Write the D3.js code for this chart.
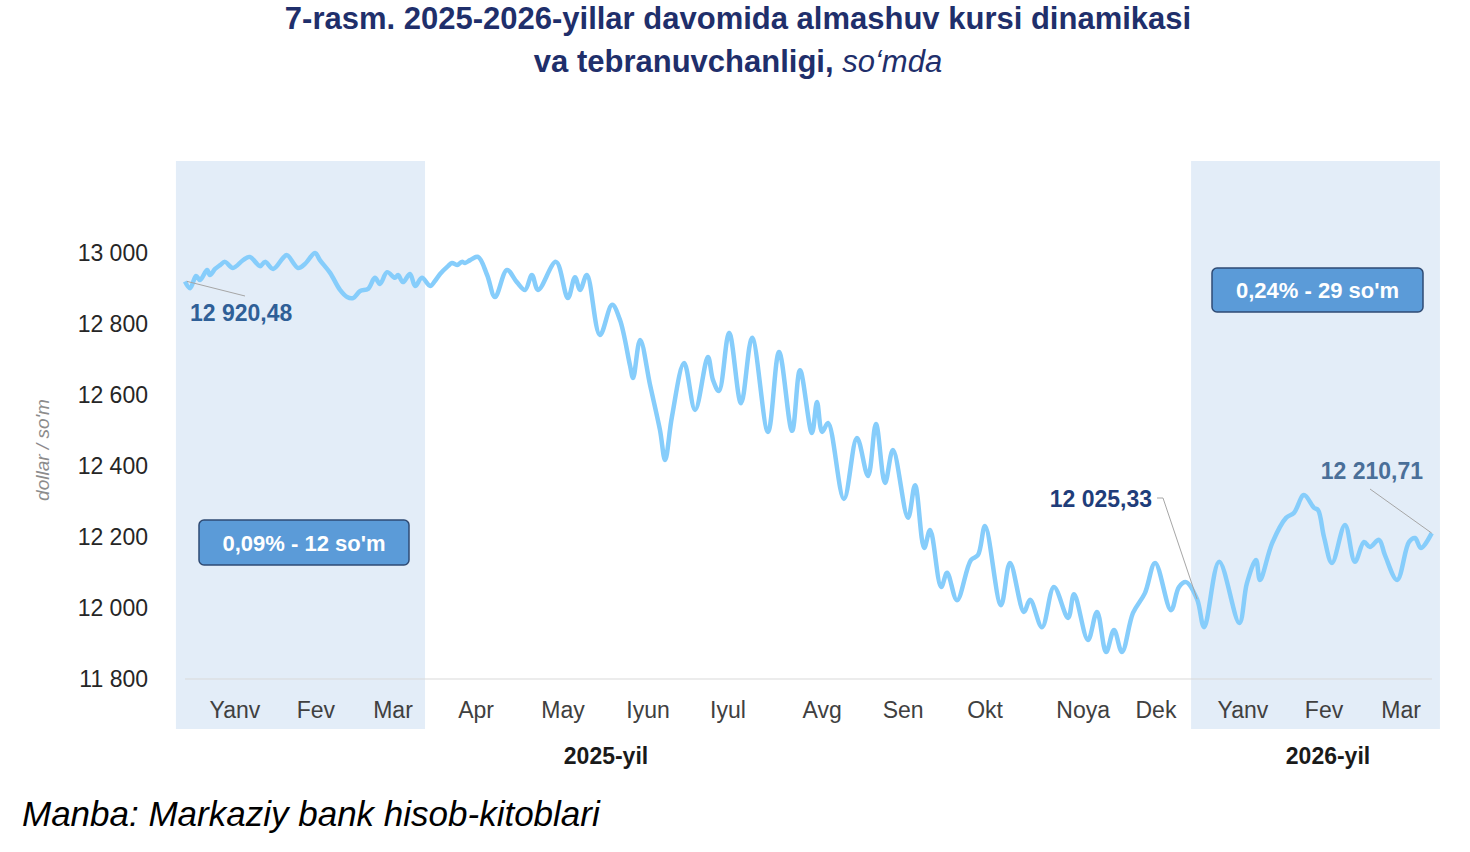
<!DOCTYPE html>
<html><head><meta charset="utf-8">
<script src="https://cdn.jsdelivr.net/npm/d3@7"></script>
<style>body{margin:0;background:#fff}svg{font-family:"Liberation Sans",Arial,sans-serif}</style>
</head><body><svg id="c" width="1470" height="852"></svg>
<script>
const days=[0,1.8,3.9,5.3,7.8,8.8,10.6,12.4,14.1,16.9,20.5,22.9,26.5,28.2,31.1,34.6,36,39.9,42.3,45.9,47.6,51.2,54.7,57.2,59.3,61.8,64.6,67,68.8,71.3,74.1,75.2,76.9,79.4,81.2,83.6,86.5,88.2,90,92.8,94.2,96,97.7,98.8,100.6,103.4,106.6,109.4,113.6,117.1,120,122.4,124.6,130.9,135.1,137.6,139.4,141.8,146.4,150.7,153.5,157,158.1,160.6,164.1,167.6,169.4,171.8,176.1,180,184.5,186.3,188.4,192,196.2,200.1,205.7,209.6,214.2,217,221.2,223,224.8,226.9,232.5,237.1,241,243.8,247,249.8,255.1,257.6,260.8,262.9,266.8,268.9,272.4,277.3,279.8,282.3,287.9,291.1,296,298.2,302.4,306.6,311.6,313.7,318.6,321.8,325,327.8,330.6,334.5,338.7,342.3,347.9,350.7,353.2,357.1,359.6,364.9,372,374.7,377.9,379.3,383.6,388.5,391.3,394.8,398.4,399.8,401.9,404.7,409.3,412.8,416,418.1,421.3,423.4,427.7,431.9,434,436.1,439.9];
const rates=[12920,12901,12935,12924,12952,12938,12955,12966,12975,12958,12980,12989,12963,12975,12955,12986,12994,12958,12969,13000,12980,12944,12896,12876,12873,12893,12899,12930,12913,12946,12930,12938,12918,12941,12907,12930,12907,12921,12941,12963,12972,12966,12975,12972,12980,12989,12938,12876,12952,12918,12896,12938,12896,12975,12873,12932,12896,12938,12769,12854,12811,12684,12648,12755,12628,12501,12417,12538,12690,12558,12707,12642,12611,12775,12577,12761,12496,12721,12499,12670,12493,12580,12496,12521,12307,12479,12372,12518,12352,12445,12254,12346,12169,12220,12059,12099,12022,12135,12149,12231,12008,12127,11989,12023,11946,12059,11972,12039,11910,11989,11876,11938,11876,11986,12042,12127,11994,12059,12073,12025,11946,12130,11958,12070,12135,12079,12183,12254,12268,12318,12282,12276,12200,12127,12234,12130,12186,12172,12192,12149,12079,12186,12197,12169,12211];
const monthLabels=["Yanv","Fev","Mar","Apr","May","Iyun","Iyul","Avg","Sen","Okt","Noya","Dek","Yanv","Fev","Mar"];
const monthDays=[17.6,46.2,73.4,102.7,133.4,163.4,191.6,224.8,253.4,282.3,316.9,342.6,373.3,401.9,429.1];
const yTicks=[11800,12000,12200,12400,12600,12800,13000];
const shaded=[[-3.2,84.7],[355,442.8]];

const svg=d3.select("#c");
const x=d3.scaleLinear().domain([0,440]).range([185,1432]);
const y=d3.scaleLinear().domain([11800,13000]).range([679,253]);
const fmt=v=>d3.format(",")(v).replace(/,/g," ");

shaded.forEach(s=>svg.append("rect").attr("x",x(s[0])).attr("width",x(s[1])-x(s[0])).attr("y",161).attr("height",568).attr("fill","#e3edf8"));
svg.append("line").attr("x1",185).attr("x2",1432).attr("y1",y(11800)).attr("y2",y(11800)).attr("stroke","#d9d9d9").attr("stroke-width",1);

svg.selectAll(".yt").data(yTicks).enter().append("text").attr("x",148).attr("y",d=>y(d)+8).attr("text-anchor","end").attr("font-size",23).attr("fill","#262626").text(fmt);
svg.selectAll(".mt").data(monthLabels).enter().append("text").attr("x",(d,i)=>x(monthDays[i])).attr("y",718).attr("text-anchor","middle").attr("font-size",23).attr("fill","#404040").text(d=>d);
svg.append("text").attr("x",606).attr("y",764).attr("text-anchor","middle").attr("font-size",23).attr("font-weight","bold").attr("fill","#1a1a1a").text("2025-yil");
svg.append("text").attr("x",1328).attr("y",764).attr("text-anchor","middle").attr("font-size",23).attr("font-weight","bold").attr("fill","#1a1a1a").text("2026-yil");
svg.append("text").attr("transform","translate(49,450) rotate(-90)").attr("text-anchor","middle").attr("font-size",19).attr("font-style","italic").attr("fill","#8c8c8c").text("dollar / so'm");

const pts=days.map((d,i)=>[d,rates[i]]);
svg.append("path").datum(pts).attr("fill","none").attr("stroke","#86cdfb").attr("stroke-width",4.5).attr("stroke-linejoin","round")
 .attr("d",d3.line().x(d=>x(d[0])).y(d=>y(d[1])).curve(d3.curveCatmullRom.alpha(0.5)));

// annotations
svg.append("line").attr("x1",x(0)+2).attr("y1",y(12920)).attr("x2",245).attr("y2",296).attr("stroke","#a6a6a6");
svg.append("text").attr("x",190).attr("y",321).attr("font-size",23).attr("font-weight","bold").attr("fill","#2f5f97").text("12 920,48");
svg.append("path").attr("d",`M1157,498 L1163,498 L${x(357.1)},${y(12025)}`).attr("fill","none").attr("stroke","#a6a6a6");
svg.append("text").attr("x",1152).attr("y",507).attr("text-anchor","end").attr("font-size",23).attr("font-weight","bold").attr("fill","#1f3d7a").text("12 025,33");
svg.append("line").attr("x1",1370).attr("y1",489).attr("x2",x(439.9)).attr("y2",y(12211)).attr("stroke","#a6a6a6");
svg.append("text").attr("x",1423).attr("y",479).attr("text-anchor","end").attr("font-size",23).attr("font-weight","bold").attr("fill","#4a6f98").text("12 210,71");

function box(x0,y0,w,h,t){
 svg.append("rect").attr("x",x0).attr("y",y0).attr("width",w).attr("height",h).attr("rx",5).attr("fill","#5b9bd8").attr("stroke","#2f4b74").attr("stroke-width",1.5);
 svg.append("text").attr("x",x0+w/2).attr("y",y0+h/2+8).attr("text-anchor","middle").attr("font-size",22).attr("font-weight","bold").attr("fill","#fff").text(t);
}
box(199,520,210,45,"0,09% - 12 so'm");
box(1212,268,211,44,"0,24% - 29 so'm");

const t=svg.append("text").attr("text-anchor","middle").attr("font-size",31).attr("font-weight","bold").attr("fill","#1f2f6b");
t.append("tspan").attr("x",738).attr("y",29).text("7-rasm. 2025-2026-yillar davomida almashuv kursi dinamikasi");
const l2=t.append("tspan").attr("x",738).attr("y",72);
l2.text("va  tebranuvchanligi, ");
t.append("tspan").attr("font-weight","normal").attr("font-style","italic").text("so‘mda");
svg.append("text").attr("x",22).attr("y",826).attr("font-size",35).attr("font-style","italic").attr("fill","#000").text("Manba: Markaziy bank hisob-kitoblari");
</script></body></html>
